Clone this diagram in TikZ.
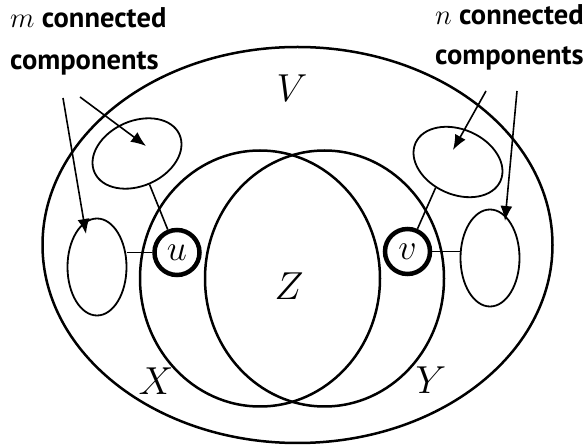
\documentclass[tikz,border=0pt]{standalone}
\usepackage{fix-cm}
\usepackage{fontspec}
\setsansfont{PT Sans}
\usetikzlibrary{shapes.geometric,arrows.meta,positioning}

\begin{document}
\begin{tikzpicture}[x=1pt,y=-1pt,
    comp/.style={draw, ellipse, line width=1.8pt, inner sep=0pt, minimum width=59pt, minimum height=97pt},
    tilted/.style={draw, ellipse, line width=1.8pt, inner sep=0pt, minimum width=93pt, minimum height=65pt},
    cut/.style={draw, circle, line width=4.5pt, inner sep=0pt, minimum size=45pt, font=\fontsize{36}{40}\selectfont},
    link/.style={line width=1.6pt},
    pointer/.style={line width=1.6pt, -{Latex[length=15pt,width=12pt]}},
    setlabel/.style={font=\fontsize{39}{43}\selectfont},
    caption/.style={font=\sffamily\bfseries\fontsize{28.5}{33}\selectfont, inner sep=0pt, anchor=base west}]
    \useasboundingbox (0,0) rectangle (587,446);

    % The vertex set and the two sides
    \draw[line width=2.5pt] (297.5,245) ellipse [x radius=255, y radius=198];
    \draw[line width=2.5pt] (260,278.5) ellipse [x radius=120, y radius=128];
    \draw[line width=2.5pt] (324.5,278.5) ellipse [x radius=119.5, y radius=128];
    \node[setlabel] (vlab) at (292,88) {$V$};
    \node[setlabel] (xlab) at (156,381) {$X$};
    \node[setlabel] (ylab) at (431,380) {$Y$};
    \node[setlabel] (zlab) at (289,286) {$Z$};

    % Cut vertices and their components
    \node[cut] (u) at (177,252.5) {$u$};
    \node[cut] (v) at (407.5,251.5) {$v$};
    \node[tilted, rotate=24] (cl1) at (137,153.5) {};
    \node[comp] (cl2) at (97,267) {};
    \node[tilted, rotate=-24] (cr1) at (458,162) {};
    \node[comp] (cr2) at (490,258) {};
    \draw[link] (u) -- (cl1);
    \draw[link] (u.west) -- (u.west -| cl2.east);
    \draw[link] (v) -- (cr1.253);
    \draw[link] (v.east) -- (v.east -| cr2.west);

    % Captions
    \node[caption] (mtop) at (10,28) {$m$ connected};
    \node[caption] (mbot) at (10,70) {components};
    \node[caption] (ntop) at (435,25) {$n$ connected};
    \node[caption] (nbot) at (435,65) {components};

    % Pointers
    \coordinate (ma) at (63,98);   \coordinate (mat) at (86,234);
    \coordinate (mb) at (80,97);   \coordinate (mbt) at (146,146);
    \coordinate (na) at (486,91);  \coordinate (nat) at (453,150);
    \coordinate (nb) at (517,91);  \coordinate (nbt) at (505,221);
    \foreach \s/\t in {ma/mat, mb/mbt, na/nat, nb/nbt} {
        \draw[pointer] (\s) -- (\t);
    }
\end{tikzpicture}
\end{document}
